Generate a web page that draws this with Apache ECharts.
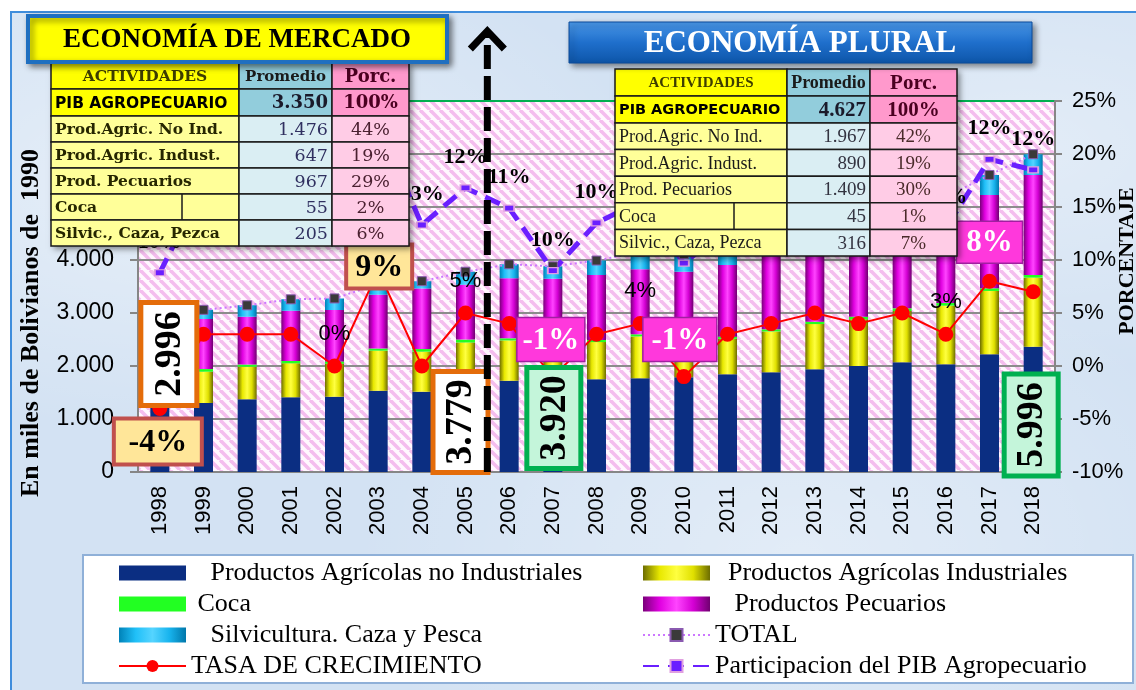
<!DOCTYPE html>
<html>
<head>
<meta charset="utf-8">
<script src="https://cdn.jsdelivr.net/npm/echarts@6/dist/echarts.min.js"></script>
<style>
  html, body { margin: 0; padding: 0; background: #fff; }
  #fondo {
    position: absolute; left: 10px; top: 11px; width: 1126px; height: 679px;
    border-left: 2px solid #3f8ddc; border-top: 2px solid #3f8ddc; box-sizing: border-box;
    background:
      radial-gradient(ellipse at 15% 25%, rgba(255,255,255,0.45), rgba(255,255,255,0) 35%),
      radial-gradient(ellipse at 70% 80%, rgba(255,255,255,0.35), rgba(255,255,255,0) 40%),
      radial-gradient(ellipse at 90% 20%, rgba(255,255,255,0.35), rgba(255,255,255,0) 30%),
      #d3e2f3;
  }
  #chart { position: absolute; left: 0; top: 0; width: 1136px; height: 690px; }
</style>
</head>
<body>
<div id="fondo"></div>
<div id="chart"></div>
<script>
(function () {
  'use strict';

  /*
    datos (miles de Bs. de 1990)
  */
  var anios = ['1998', '1999', '2000', '2001', '2002', '2003', '2004', '2005', '2006', '2007', '2008',
               '2009', '2010', '2011', '2012', '2013', '2014', '2015', '2016', '2017', '2018'];
  var agricNoInd   = [1290, 1302, 1371, 1409, 1421, 1535, 1515, 1720, 1723, 1760, 1749, 1767, 1790, 1843, 1881, 1937, 2000, 2069, 2031, 2220, 2365];
  var agricInd     = [ 580,  590,  616,  641,  620,  754,  755,  723,  759,  780,  702,  791,  760,  670,  771,  854,  880,  969, 1107, 1196, 1302];
  var coca         = [  55,   50,   40,   45,   45,   40,   50,   55,   40,   40,   40,   40,   40,   40,   40,   45,   50,   50,   50,   50,   50];
  var pecuarios    = [ 921,  944,  904,  949,  971, 1017, 1140, 1037, 1132, 1068, 1226, 1226, 1190, 1353, 1388, 1454, 1550, 1642, 1682, 1760, 1887];
  var silvicultura = [ 150,  174,  214,  214,  218,  199,  140,  244,  266,  232,  273,  326,  330,  324,  320,  330,  320,  310,  320,  379,  392];
  var total        = [2996, 3060, 3145, 3258, 3275, 3545, 3600, 3779, 3920, 3880, 3990, 4150, 4110, 4230, 4400, 4620, 4800, 5040, 5190, 5605, 5996];
  // porcentajes (eje derecho)
  var tasa          = [-4, 3, 3, 3, 0, 9, 0, 5, 4, -1, 3, 4, -1, 3, 4, 5, 4, 5, 3, 8, 7];
  var participacion = [8.8, 17, 18, 19, 21, 23, 13.3, 16.8, 14.9, 9.0, 13.5, 15.5, 9.7, 13, 14, 15, 15, 14, 13, 19.5, 18.5];
  var etiquetasPart = ['10%', '11%', '11%', '11%', '11%', '12%', '13%', '12%', '11%', '10%', '10%',
                       '10%', '10%', '10%', '10%', '10%', '10%', '11%', '11%', '12%', '12%'];
  var tasaConTexto  = ['2002', '2005', '2009', '2016'];

  var ticksIzq = [0, 7000, 1000];
  var ticksDer = [-10, 25, 5];

  // tablas de promedios
  var encabezado = ['ACTIVIDADES', 'Promedio', 'Porc.'];
  var tablaMercado = [
    ['PIB AGROPECUARIO', '3.350', '100%'],
    ['Prod.Agric. No Ind.', '1.476', '44%'],
    ['Prod.Agric. Indust.', '647', '19%'],
    ['Prod. Pecuarios', '967', '29%'],
    ['Coca', '55', '2%'],
    ['Silvic., Caza, Pezca', '205', '6%']
  ];
  var tablaPlural = [
    ['PIB AGROPECUARIO', '4.627', '100%'],
    ['Prod.Agric. No Ind.', '1.967', '42%'],
    ['Prod.Agric. Indust.', '890', '19%'],
    ['Prod. Pecuarios', '1.409', '30%'],
    ['Coca', '45', '1%'],
    ['Silvic., Caza, Pezca', '316', '7%']
  ];

  /* ----------------- estilos ----------------- */

  var SERIF = '"Liberation Serif", "Times New Roman", serif',
      SANS  = '"Liberation Sans", Arial, sans-serif';

  var grad = function (stops) {
    return new echarts.graphic.LinearGradient(0, 0, 1, 0, stops.map(function (c, i) {
      return {offset: i / (stops.length - 1), color: c};
    }));
  };

  // fondo rayado del area de trazado
  var rayas = document.createElement('canvas');
  rayas.width = rayas.height = 10;
  (function (ctx) {
    ctx.fillStyle = '#fff8fe';
    ctx.fillRect(0, 0, 10, 10);
    ctx.strokeStyle = '#f4bdee';
    ctx.lineWidth = 3.6;
    for (var k = -1; k <= 1; k++) {
      ctx.beginPath();
      ctx.moveTo(k * 10, 0);
      ctx.lineTo(k * 10 + 10, 10);
      ctx.stroke();
    }
  })(rayas.getContext('2d'));

  var barra = function (name, data, color) {
    return {
      name: name, type: 'bar', stack: 'pib', barWidth: 19, data: data,
      itemStyle: {color: color}
    };
  };

  var sangria = {
    'Productos Agrícolas no Industriales': '   ',
    'Coca': ' ',
    'Silvicultura. Caza y Pesca': '   ',
    'Productos Agrícolas Industriales': '  ',
    'Productos Pecuarios': '   '
  };
  var leyenda = function (left, items) {
    return {
      left: left, top: 555, orient: 'vertical', itemWidth: 67, itemHeight: 15, itemGap: 5,
      data: items,
      formatter: function (n) { return (sangria[n] || '') + n; },
      textStyle: {fontFamily: SERIF, fontSize: 26, lineHeight: 26, color: '#000'}
    };
  };

  var option = {
    animation: false,
    backgroundColor: 'transparent',
    grid: {
      left: 138, right: 81, top: 101, bottom: 218,
      show: true, borderWidth: 0,
      backgroundColor: {image: rayas, repeat: 'repeat'}
    },
    legend: [
      leyenda(113, [
        {name: 'Productos Agrícolas no Industriales', icon: 'rect'},
        {name: 'Coca', icon: 'rect'},
        {name: 'Silvicultura. Caza y Pesca', icon: 'rect'},
        {name: 'TASA DE CRECIMIENTO'}
      ]),
      leyenda(637, [
        {name: 'Productos Agrícolas Industriales', icon: 'rect'},
        {name: 'Productos Pecuarios', icon: 'rect'},
        {name: 'TOTAL'},
        {name: 'Participacion del PIB Agropecuario'}
      ])
    ],
    xAxis: {
      type: 'category', data: anios,
      axisLine: {lineStyle: {color: '#868686', width: 2}},
      axisTick: {length: 7, lineStyle: {color: '#868686', width: 2}},
      axisLabel: {rotate: 90, margin: 14, fontFamily: SANS, fontSize: 22, color: '#000'}
    },
    yAxis: [{
      type: 'value', min: ticksIzq[0], max: ticksIzq[1], interval: ticksIzq[2],
      axisLine: {show: true, lineStyle: {color: '#868686', width: 2}},
      axisTick: {show: true, length: 8, lineStyle: {color: '#868686', width: 2}},
      axisLabel: {
        margin: 24, fontFamily: SANS, fontSize: 23, color: '#000',
        formatter: function (v) { return v >= 1000 ? (v / 1000) + '.000' : String(v); }
      },
      splitLine: {lineStyle: {width: 2, color: ['#8c8c8c', '#8c8c8c', '#8c8c8c', '#8c8c8c', '#8c8c8c', '#8c8c8c', '#8c8c8c', '#00b050']}}
    }, {
      type: 'value', min: ticksDer[0], max: ticksDer[1], interval: ticksDer[2], position: 'right',
      axisLine: {show: true, lineStyle: {color: '#868686', width: 2}},
      axisTick: {show: true, length: 7, lineStyle: {color: '#868686', width: 2}},
      axisLabel: {margin: 17, fontFamily: SANS, fontSize: 22, color: '#000', formatter: '{value}%'},
      splitLine: {show: false}
    }],
    series: [
      barra('Productos Agrícolas no Industriales', agricNoInd, '#0b2e82'),
      barra('Productos Agrícolas Industriales', agricInd, grad(['#6d6d00', '#e8e800', '#ffff40', '#e0e000', '#6d6d00'])),
      barra('Coca', coca, '#22ff22'),
      barra('Productos Pecuarios', pecuarios, grad(['#7a007a', '#e000e0', '#ff44ff', '#d400d4', '#700070'])),
      barra('Silvicultura. Caza y Pesca', silvicultura, grad(['#0082b8', '#20c0f8', '#55d4ff', '#18b4ee', '#0077aa'])),
      {
        name: 'TOTAL', type: 'line', data: total, yAxisIndex: 0,
        symbol: 'rect', symbolSize: 9,
        lineStyle: {color: '#cc77ff', width: 2, type: [2, 3]},
        itemStyle: {color: '#3a3a3a', borderColor: '#8a5ab0', borderWidth: 1}
      },
      {
        name: 'Participacion del PIB Agropecuario', type: 'line', data: participacion, yAxisIndex: 1,
        symbol: 'rect', symbolSize: [10, 6],
        lineStyle: {color: '#6a1fff', width: 5, type: [16, 9]},
        itemStyle: {color: '#6a1fff', borderColor: '#e0a0e0', borderWidth: 1.5},
        label: {
          show: true, position: 'top', distance: 16,
          fontFamily: SERIF, fontWeight: 'bold', fontSize: 22, color: '#000',
          formatter: function (p) { return etiquetasPart[p.dataIndex]; }
        }
      },
      {
        name: 'TASA DE CRECIMIENTO', type: 'line', yAxisIndex: 1,
        data: tasa.map(function (v, i) {
          return {value: v, label: {show: tasaConTexto.indexOf(anios[i]) !== -1}};
        }),
        symbol: 'circle', symbolSize: 15,
        lineStyle: {color: '#ff0000', width: 2},
        itemStyle: {color: '#ff0000'},
        label: {
          position: 'top', distance: 14, fontFamily: SANS, fontSize: 22, color: '#000',
          formatter: '{c}%'
        }
      }
    ]
  };

  var chart = echarts.init(document.getElementById('chart'));
  chart.setOption(option);

  /* ----------------- anotaciones ----------------- */

  var conZ = function (el, z) { el.z = z; return el; };
  var sombra = {shadowBlur: 6, shadowColor: 'rgba(0,0,0,0.45)', shadowOffsetX: 3, shadowOffsetY: 3};

  var pix = function (anio, eje, valor) {
    return chart.convertToPixel({xAxisIndex: 0, yAxisIndex: eje}, [anio, valor]);
  };

  var tiposCaja = {
    beige:   {fill: '#ffe699', stroke: '#c0504d', lw: 4, color: '#000', font: 'bold 32px ' + SERIF},
    naranja: {fill: '#ffffff', stroke: '#e46c0a', lw: 5, color: '#000', font: 'bold 38px ' + SERIF},
    verde:   {fill: '#c4f5da', stroke: '#00b050', lw: 5, color: '#000', font: 'bold 38px ' + SERIF},
    magenta: {fill: '#ff38dc', stroke: '#a020a0', lw: 1.5, color: '#fff', font: 'bold 31px ' + SERIF}
  };

  var cajas = [
    {anio: '1998', eje: 1, valor: -4, texto: '-4%', tipo: 'beige', w: 88, h: 46, dx: -2, dy: 33},
    {anio: '1998', eje: 0, valor: 0, texto: '2.996', tipo: 'naranja', w: 103, h: 56, dx: 9, dy: -118, rot: true},
    {anio: '2003', eje: 1, valor: 9, texto: '9%', tipo: 'beige', w: 66, h: 44, dx: 1, dy: -4},
    {anio: '2005', eje: 0, valor: 0, texto: '3.779', tipo: 'naranja', w: 101, h: 55, dx: -5, dy: -50, rot: true},
    {anio: '2007', eje: 1, valor: -1, texto: '-1%', tipo: 'magenta', w: 68, h: 44, dx: -2, dy: -37},
    {anio: '2007', eje: 0, valor: 0, texto: '3.920', tipo: 'verde', w: 101, h: 54, dx: 1, dy: -54, rot: true},
    {anio: '2010', eje: 1, valor: -1, texto: '-1%', tipo: 'magenta', w: 74, h: 44, dx: -4, dy: -37},
    {anio: '2017', eje: 1, valor: 8, texto: '8%', tipo: 'magenta', w: 66, h: 42, dx: 0, dy: -39},
    {anio: '2018', eje: 0, valor: 0, texto: '5.996', tipo: 'verde', w: 102, h: 54, dx: -2, dy: -47, rot: true}
  ];

  var graficos = [];

  // recuadro de la leyenda
  graficos.push(conZ({type: 'rect', shape: {x: 83, y: 555, width: 1050, height: 128},
    style: {fill: '#fff', stroke: '#8fb0d8', lineWidth: 2}}, 1));

  cajas.forEach(function (c) {
    var p = pix(c.anio, c.eje, c.valor), t = tiposCaja[c.tipo];
    graficos.push({
      type: 'group', x: p[0] + c.dx, y: p[1] + c.dy, rotation: c.rot ? Math.PI / 2 : 0, z: 40,
      children: [
        conZ({type: 'rect', shape: {x: -c.w / 2, y: -c.h / 2, width: c.w, height: c.h},
          style: {fill: t.fill, stroke: t.stroke, lineWidth: t.lw}}, 40),
        conZ({type: 'text', style: {text: c.texto, x: 0, y: 1, font: t.font, fill: t.color,
          textAlign: 'center', textVerticalAlign: 'middle'}}, 41)
      ]
    });
  });

  // flecha de separacion entre periodos
  var pA = pix('2005', 0, 0), pB = pix('2006', 0, 0), xf = (pA[0] + pB[0]) / 2;
  graficos.push(conZ({type: 'line', shape: {x1: xf, y1: pA[1], x2: xf, y2: 36},
    style: {stroke: '#000', lineWidth: 7, lineDash: [24, 7]}}, 45));
  graficos.push(conZ({type: 'polyline', shape: {points: [[xf - 17, 49], [xf, 31], [xf + 17, 49]]},
    style: {stroke: '#000', lineWidth: 7, fill: null}}, 45));

  // tablas
  var fondosFuertes = ['#ffff00', '#92cddc', '#ff99cc'],
      fondosSuaves  = ['#ffff99', '#daeef3', '#ffcce6'];

  var tabla = function (x0, y0, anchos, altos, filas, fuente, xCoca) {
    var hijos = [], y = y0;
    [encabezado].concat(filas).forEach(function (fila, r) {
      var h = altos[r], x = x0;
      fila.forEach(function (celda, c) {
        var w = anchos[c], f = fuente(r, c);
        hijos.push(conZ({type: 'rect', shape: {x: x, y: y, width: w, height: h},
          style: {fill: r < 2 ? fondosFuertes[c] : fondosSuaves[c], stroke: '#1a1a1a', lineWidth: 1.5}}, 50));
        var tx = f.align === 'left' ? x + 4 : (f.align === 'right' ? x + w - 4 : x + w / 2);
        hijos.push(conZ({type: 'text', style: {text: celda, x: tx, y: y + h / 2 + 1, font: f.font,
          fill: f.color, textAlign: f.align, textVerticalAlign: 'middle'}}, 52));
        x += w;
      });
      if (fila[0] === 'Coca') {
        hijos.push(conZ({type: 'line', shape: {x1: xCoca, y1: y, x2: xCoca, y2: y + h},
          style: {stroke: '#1a1a1a', lineWidth: 1.5}}, 51));
      }
      y += h;
    });
    // sombra de la tabla completa
    var W = anchos.reduce(function (a, b) { return a + b; }, 0),
        H = altos.reduce(function (a, b) { return a + b; }, 0);
    hijos.unshift(conZ({type: 'rect', shape: {x: x0, y: y0, width: W, height: H},
      style: Object.assign({fill: '#fff'}, sombra)}, 49));
    return hijos;
  };

  var DVS = '"DejaVu Serif", serif', DVSANS = '"DejaVu Sans", sans-serif';
  var fuenteMercado = function (r, c) {
    if (r === 0) {
      return [{font: 'bold 15.5px ' + DVS, color: '#3d3d00', align: 'center'},
              {font: 'bold 15px ' + DVS, color: '#1a1a1a', align: 'center'},
              {font: 'bold 18px ' + DVS, color: '#4a0020', align: 'center'}][c];
    }
    if (r === 1) {
      return [{font: 'bold 15.5px ' + DVSANS, color: '#000', align: 'left'},
              {font: 'bold 18px ' + DVS, color: '#1a1a2a', align: 'right'},
              {font: 'bold 18px ' + DVS, color: '#4a0020', align: 'center'}][c];
    }
    return [{font: 'bold 15.5px ' + DVS, color: '#262600', align: 'left'},
            {font: '17.5px ' + DVS, color: '#303060', align: 'right'},
            {font: '17.5px ' + DVS, color: '#4a2030', align: 'center'}][c];
  };
  var fuentePlural = function (r, c) {
    if (r === 0) {
      return [{font: 'bold 15px ' + SERIF, color: '#3d3d00', align: 'center'},
              {font: 'bold 18px ' + SERIF, color: '#1a1a1a', align: 'center'},
              {font: 'bold 21px ' + SERIF, color: '#4a0020', align: 'center'}][c];
    }
    if (r === 1) {
      return [{font: 'bold 14.5px ' + DVSANS, color: '#000', align: 'left'},
              {font: 'bold 21px ' + SERIF, color: '#1a1a2a', align: 'right'},
              {font: 'bold 21px ' + SERIF, color: '#4a0020', align: 'center'}][c];
    }
    return [{font: '18px ' + SERIF, color: '#1a1a1a', align: 'left'},
            {font: '19px ' + SERIF, color: '#333340', align: 'right'},
            {font: '19px ' + SERIF, color: '#4a2a2a', align: 'center'}][c];
  };

  graficos = graficos.concat(
    tabla(51, 63, [188, 93, 77], [26, 27, 26, 26, 26, 26, 26], tablaMercado, fuenteMercado, 182),
    tabla(615, 69, [172, 83, 87], [27, 27, 26.6, 26.6, 26.6, 26.6, 26.6], tablaPlural, fuentePlural, 734)
  );

  // titulos de periodo
  graficos.push(conZ({type: 'rect', shape: {x: 28, y: 16, width: 419, height: 46},
    style: Object.assign({fill: '#ffff00', stroke: '#1f6fc0', lineWidth: 4}, sombra)}, 60));
  graficos.push(conZ({type: 'text', style: {text: 'ECONOMÍA DE MERCADO', x: 237, y: 40,
    font: 'bold 27px ' + SERIF, fill: '#000', textAlign: 'center', textVerticalAlign: 'middle'}}, 61));
  graficos.push(conZ({type: 'rect', shape: {x: 569, y: 22, width: 463, height: 41},
    style: Object.assign({
      fill: new echarts.graphic.LinearGradient(0, 0, 0, 1, [
        {offset: 0, color: '#4a98e8'}, {offset: 0.5, color: '#1f6fcc'}, {offset: 1, color: '#0d55a8'}]),
      stroke: '#0a4a9a', lineWidth: 1}, sombra)}, 60));
  graficos.push(conZ({type: 'text', style: {text: 'ECONOMÍA PLURAL', x: 800, y: 44,
    font: 'bold 31px ' + SERIF, fill: '#fff', textAlign: 'center', textVerticalAlign: 'middle'}}, 61));

  // titulos de ejes
  graficos.push(conZ({type: 'text', x: 31, y: 323, rotation: Math.PI / 2,
    style: {text: 'En miles de Bolivianos de  1990', x: 0, y: 0, font: 'bold 26px ' + SERIF,
      fill: '#000', textAlign: 'center', textVerticalAlign: 'middle'}}, 30));
  graficos.push(conZ({type: 'text', x: 1127, y: 261, rotation: Math.PI / 2,
    style: {text: 'PORCENTAJE', x: 0, y: 0, font: 'bold 22px ' + SERIF,
      fill: '#000', textAlign: 'center', textVerticalAlign: 'middle'}}, 30));

  chart.setOption({graphic: {elements: graficos}});
})();
</script>
</body>
</html>
